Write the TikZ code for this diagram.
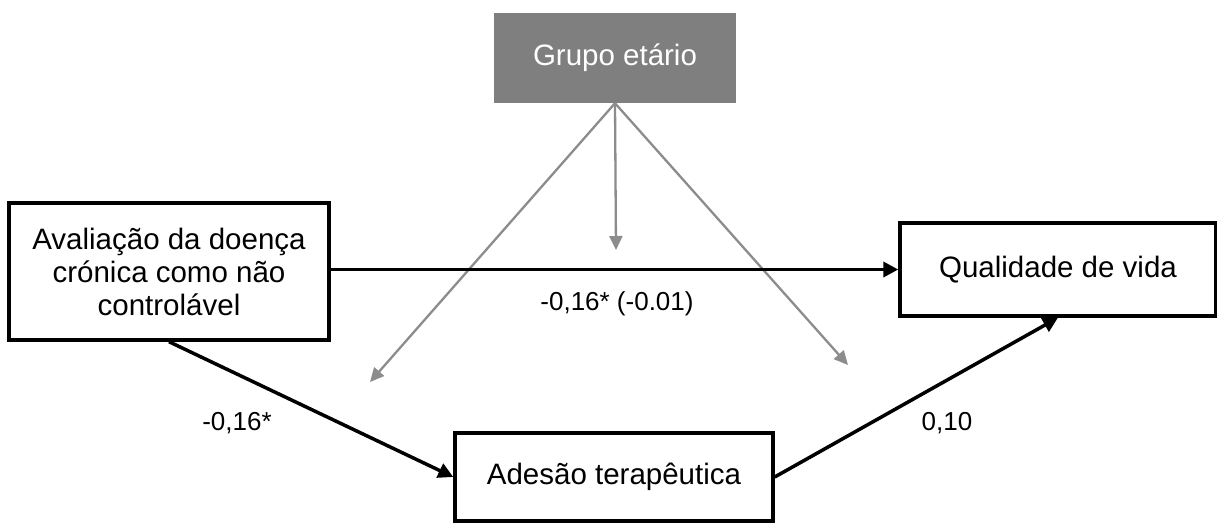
\documentclass[tikz,border=0pt]{standalone}
\usepackage{fontspec}
\setmainfont{Liberation Sans}
\usetikzlibrary{arrows.meta}
\begin{document}
\begin{tikzpicture}[x=1pt,y=-1pt,
  box/.style={draw=black,line width=3.4pt,fill=white,inner sep=0pt,align=center,font=\fontsize{29.5}{33}\selectfont},
  modbox/.style={fill=modgray,inner sep=0pt,text=white,font=\fontsize{29.5}{33}\selectfont},
  blackarrow/.style={line width=3.5pt,-{Triangle[length=15pt,width=15pt]}},
  grayarrow/.style={draw=arrgray,line width=2.3pt,-{Triangle[length=14pt,width=13pt]}},
  lbl/.style={inner sep=0pt,font=\fontsize{26}{30}\selectfont}]
\definecolor{modgray}{HTML}{7F7F7F}
\definecolor{arrgray}{HTML}{8C8C8C}
\useasboundingbox (0,0) rectangle (1217,523);
\node[modbox,minimum width=242pt,minimum height=90pt] (grupo) at (615,58) {Grupo etário};
\node[box,minimum width=320pt,minimum height=137pt] (aval) at (169,271.5) {Avaliação da doença\\crónica como não\\controlável};
\node[box,minimum width=316pt,minimum height=93pt] (qual) at (1058,269.5) {Qualidade de vida};
\node[box,minimum width=318pt,minimum height=88pt] (ades) at (614,477) {Adesão terapêutica};
\coordinate (t1) at (616,250);
\coordinate (t2) at (370,382);
\coordinate (t3) at (848,365);
\draw[grayarrow] (grupo.south) -- (t1);
\draw[grayarrow] (grupo.south) -- (t2);
\draw[grayarrow] (grupo.south) -- (t3);
\draw[blackarrow] (aval.east |- qual.west) -- (qual.west);
\draw[blackarrow] (aval.south) -- (ades.west);
\draw[blackarrow] (ades.east) -- (qual.south);
\node[lbl] (l1) at (617,304) {-0,16* (-0.01)};
\node[lbl] (l2) at (237,423) {-0,16*};
\node[lbl] (l3) at (947,423) {0,10};
\end{tikzpicture}
\end{document}
